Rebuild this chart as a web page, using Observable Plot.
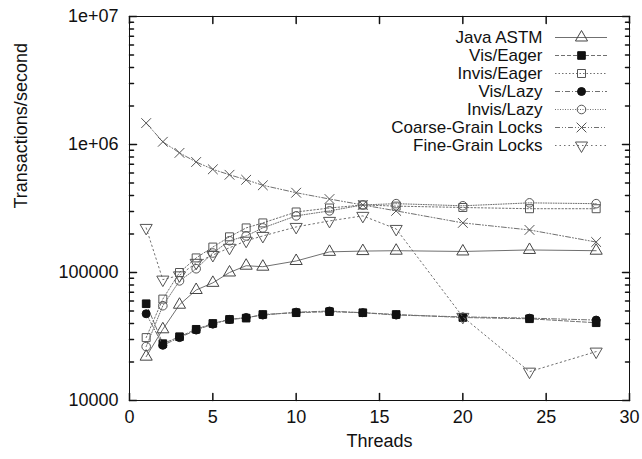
<!DOCTYPE html>
<html><head><meta charset="utf-8">
<script src="https://cdn.jsdelivr.net/npm/d3@7"></script>
<script src="https://cdn.jsdelivr.net/npm/@observablehq/plot@0.6"></script>
<style>
body{margin:0;background:#fff;}
#wrap{position:relative;width:642px;height:459px;font-family:"Liberation Sans",Arial,sans-serif;}
#chart svg,#legend svg{max-width:none !important;}
#legend{position:absolute;left:340px;top:20px;width:280px;height:140px;}
</style></head><body><div id="wrap"><div id="chart"></div><div id="legend"></div></div>
<script>
const threads = [1,2,3,4,5,6,7,8,10,12,14,16,20,24,28];
const seriesNames = ["Java ASTM","Vis/Eager","Invis/Eager","Vis/Lazy","Invis/Lazy","Coarse-Grain Locks","Fine-Grain Locks"];
const javaASTM   = [22000,36000,56000,73000,83000,100000,113000,111000,123000,145000,147000,148000,146000,150000,148000];
const visEager   = [57000,27800,31500,36000,40000,43000,44000,47000,48500,49400,48500,47000,44500,43500,40500];
const invisEager = [31000,62000,100000,130000,158000,190000,223000,244000,297000,319000,337000,330000,322000,315000,315000];
const visLazy    = [47600,27000,31000,35500,39500,43000,44500,46500,49000,50000,48500,46500,45000,44000,42500];
const invisLazy  = [26400,55000,86000,107000,142000,177000,193000,223000,277000,303000,337000,345000,332000,350000,345000];
const coarseLocks= [1470000,1050000,860000,730000,640000,580000,530000,480000,420000,375000,337000,303000,244000,215000,173000];
const fineLocks  = [223000,88000,95000,119000,137000,156000,177000,193000,227000,253000,277000,219000,45000,16800,24100];
const seriesValues = [javaASTM, visEager, invisEager, visLazy, invisLazy, coarseLocks, fineLocks];

const yMajorTicks = [10000,100000,1000000,10000000];
const yTickLabels = ["10000","100000","1e+06","1e+07"];
const yMinorTicks = [20000,30000,40000,50000,60000,70000,80000,90000,
  200000,300000,400000,500000,600000,700000,800000,900000,
  2000000,3000000,4000000,5000000,6000000,7000000,8000000,9000000];
const xTicks = [0,5,10,15,20,25,30];

// styles
const sqrt3 = Math.sqrt(3);
const triangleDown = {draw(c, size){ const y = -Math.sqrt(size/(sqrt3*3)); c.moveTo(0,-y*2); c.lineTo(-sqrt3*y, y); c.lineTo(sqrt3*y, y); c.closePath(); }};
const tickShape = {draw(c, l){ c.moveTo(0,0); c.lineTo(0,-l); }};
const styles = [
  {dash:null,         symbol:"triangle",  fill:"none", stroke:"#444", r:4.5},
  {dash:"4,2",        symbol:"square",    fill:"#111", stroke:"#111", r:4.3},
  {dash:"1.5,2",      symbol:"square",    fill:"none", stroke:"#555", r:4.5},
  {dash:"5,2,1,2",    symbol:"circle",    fill:"#111", stroke:"#111", r:4},
  {dash:"1,1.5",      symbol:"circle",    fill:"none", stroke:"#555", r:4.3},
  {dash:"5,2,1,2,1,2",symbol:"times",     fill:"none", stroke:"#555", r:4.5},
  {dash:"1.5,3",      symbol:triangleDown,fill:"none", stroke:"#555", r:4.5}
];
const lineColor = "#707070";
const fontStack = '"Liberation Sans", Arial, sans-serif';

const marks = [];
seriesNames.forEach((name, si) => {
  const rows = threads.map((t, i) => ({series: name, threads: t, value: seriesValues[si][i]}));
  const st = styles[si];
  marks.push(Plot.line(rows, {x:"threads", y:"value", stroke:lineColor, strokeWidth:1, strokeDasharray: st.dash || undefined}));
  marks.push(Plot.dot(rows, {x:"threads", y:"value", symbol: st.symbol, r: st.r, fill: st.fill, stroke: st.stroke, strokeWidth:1}));
});

const chart = Plot.plot({
  width: 642, height: 459,
  marginLeft: 129, marginRight: 13, marginTop: 16, marginBottom: 59,
  style: {fontFamily: fontStack, fontSize: "18px", background: "#fff", color: "#111"},
  x: {domain: [0, 30], label: null},
  y: {type: "log", domain: [10000, 10000000], label: null},
  marks: [
    ...marks,
    Plot.frame({stroke: "#111", strokeWidth: 1}),
    Plot.vector(yMajorTicks, {x: 0, y: d => d, length: 7, rotate: 90, anchor: "start", shape: tickShape, stroke: "#111"}),
    Plot.vector(yMajorTicks, {x: 30, y: d => d, length: 7, rotate: -90, anchor: "start", shape: tickShape, stroke: "#111"}),
    Plot.vector(yMinorTicks, {x: 0, y: d => d, length: 4, rotate: 90, anchor: "start", shape: tickShape, stroke: "#111"}),
    Plot.vector(yMinorTicks, {x: 30, y: d => d, length: 4, rotate: -90, anchor: "start", shape: tickShape, stroke: "#111"}),
    Plot.vector(xTicks, {x: d => d, y: 10000, length: 7, rotate: 0, anchor: "start", shape: tickShape, stroke: "#111"}),
    Plot.vector(xTicks, {x: d => d, y: 10000000, length: 7, rotate: 180, anchor: "start", shape: tickShape, stroke: "#111"}),
    Plot.axisY(yMajorTicks, {tickSize: 0, tickPadding: 11, tickFormat: (d) => yTickLabels[yMajorTicks.indexOf(d)], fontSize: 18, label: null}),
    Plot.axisX(xTicks, {tickSize: 0, tickPadding: 10, fontSize: 18, label: null}),
    Plot.text(["Threads"], {frameAnchor: "bottom", dy: 46, fontSize: 18, fill: "#111"}),
    Plot.text(["Transactions/second"], {frameAnchor: "left", rotate: -90, dx: -108, dy: 0, fontSize: 18, fill: "#111"})
  ]
});
document.getElementById("chart").appendChild(chart);

// legend
const legendMarks = [];
seriesNames.forEach((name, si) => {
  const st = styles[si];
  const row = [{series: name}];
  legendMarks.push(Plot.ruleY(row, {y: "series", x1: 0, x2: 1, stroke: lineColor, strokeWidth: 1, strokeDasharray: st.dash || undefined}));
  legendMarks.push(Plot.dot(row, {x: 0.5, y: "series", symbol: st.symbol, r: st.r, fill: st.fill, stroke: st.stroke, strokeWidth: 1}));
  legendMarks.push(Plot.text(row, {x: 0, y: "series", text: "series", textAnchor: "end", dx: -13, fontSize: 17, fill: "#111"}));
});
const legend = Plot.plot({
  width: 280, height: 140,
  marginLeft: 215, marginRight: 13, marginTop: 15, marginBottom: 14,
  style: {fontFamily: fontStack, fontSize: "17px", background: "transparent"},
  x: {domain: [0, 1], axis: null},
  y: {type: "point", domain: seriesNames, padding: 0, axis: null},
  marks: legendMarks
});
document.getElementById("legend").appendChild(legend);
</script></body></html>
